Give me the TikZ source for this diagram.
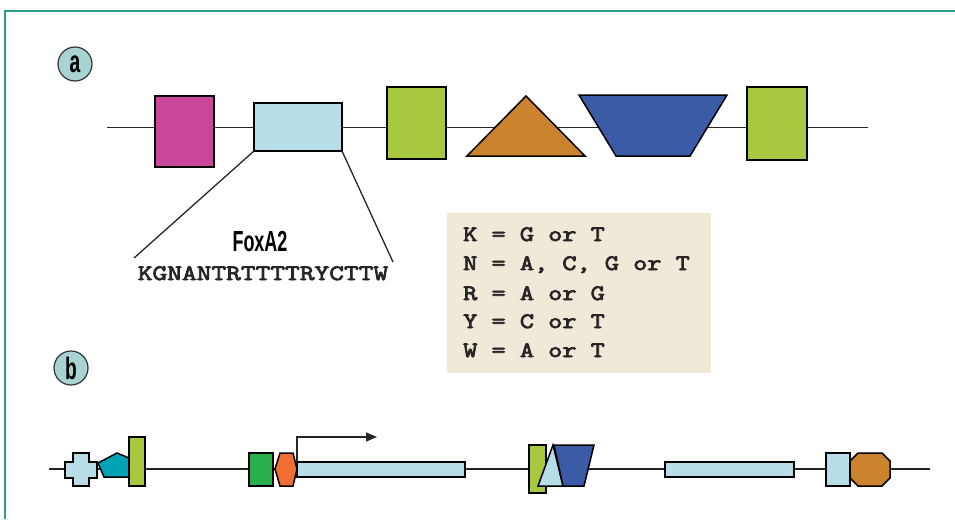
\documentclass[tikz,border=0pt]{standalone}
\usepackage{fontspec}
\newfontfamily\condfont[FakeStretch=0.62]{Liberation Sans}
\newfontfamily\monof[FakeBold=3.5, FakeStretch=1.25]{Latin Modern Mono}
\newfontfamily\monos[FakeBold=3.5, FakeStretch=1.3]{Latin Modern Mono}
\usetikzlibrary{arrows.meta}
\definecolor{cmag}{HTML}{C8479A}
\definecolor{clblue}{HTML}{B7DDE8}
\definecolor{clgreen}{HTML}{A8C83F}
\definecolor{corange}{HTML}{CC832F}
\definecolor{cblue}{HTML}{3B5BA7}
\definecolor{cteal}{HTML}{00A3B4}
\definecolor{cdgreen}{HTML}{27B04B}
\definecolor{corange2}{HTML}{F06E32}
\definecolor{cbeige}{HTML}{F1E9D8}
\definecolor{ccirc}{HTML}{A7D4D2}
\definecolor{cframe}{HTML}{2A9D8F}
\tikzset{
  bb/.style={draw=black!85, line width=1.3pt},
  shp/.style={draw=black, line width=1.5pt, line join=miter},
  boxn/.style={shp, rectangle, inner sep=0pt, outer sep=0pt},
  lab/.style={circle, draw=black!80, line width=1.2pt, fill=ccirc, minimum size=34pt, inner sep=0pt,
    font=\condfont\bfseries\fontsize{31}{31}\selectfont},
  mono/.style={font=\monof\fontsize{22}{22}\selectfont, inner sep=0pt, text=black!85},
}
\begin{document}
\begin{tikzpicture}[x=1pt,y=-1pt]
\useasboundingbox (0,0) rectangle (955,519);
\draw[cframe, line width=2pt] (5,519) -- (5,11) -- (955,11);

% ---------- panel a ----------
\node[lab] (la) at (75,64) {a};
\coordinate (a0) at (107,127.5);
\coordinate (a1) at (868,127.5);
\draw[bb] (a0) -- (a1);
\node[boxn, fill=cmag, minimum width=59pt, minimum height=71pt] (mag) at (184.5,131.5) {};
\node[boxn, fill=clblue, minimum width=88pt, minimum height=48pt] (fox box) at (298,127) {};
\node[boxn, fill=clgreen, minimum width=59pt, minimum height=72pt] (g1) at (416.5,123) {};
\draw[shp, fill=corange] (467,156) -- (526,96) -- (585,156) -- cycle;
\draw[shp, fill=cblue] (579,95) -- (727,95) -- (690,156) -- (616,156) -- cycle;
\node[boxn, fill=clgreen, minimum width=60pt, minimum height=73pt] (g2) at (777,123.5) {};

\coordinate (fl) at (134,258);
\coordinate (fr) at (393,262);
\draw[bb] (fox box.south west) -- (fl);
\draw[bb] (fox box.south east) -- (fr);
\node[anchor=base, inner sep=0pt, font=\condfont\bfseries\fontsize{29}{29}\selectfont] (fox) at (260,251) {FoxA2};
\node[mono, font=\monos\fontsize{22}{22}\selectfont, anchor=base] (seq) at (263,280) {KGNANTRTTTTRYCTTW};

\node[fill=cbeige, minimum width=264pt, minimum height=160pt, inner sep=0pt] (leg) at (579,293) {};
\node[mono, anchor=base west] (l1) at (463,241) {K = G or T};
\node[mono, anchor=base west] (l2) at (463,270) {N = A, C, G or T};
\node[mono, anchor=base west] (l3) at (463,300) {R = A or G};
\node[mono, anchor=base west] (l4) at (463,328) {Y = C or T};
\node[mono, anchor=base west] (l5) at (463,357) {W = A or T};

% ---------- panel b ----------
\node[lab] (lb) at (71,368) {b};
\coordinate (b0) at (49,469);
\coordinate (b1) at (930,469);
\draw[bb] (b0) -- (b1);
\draw[shp, fill=clblue] (73,453) -- (89,453) -- (89,462) -- (97,462) -- (97,478) -- (89,478) -- (89,486)
  -- (73,486) -- (73,478) -- (65,478) -- (65,462) -- (73,462) -- cycle;
\draw[shp, fill=cteal] (98,463) -- (117,453) -- (129,458) -- (129,477) -- (104,477) -- cycle;
\node[boxn, fill=clgreen, minimum width=16pt, minimum height=49pt] (sg) at (137,461.5) {};
\node[boxn, fill=cdgreen, minimum width=24pt, minimum height=33pt] (dg) at (261,469.5) {};
\draw[shp, fill=corange2] (275,469) -- (280,453) -- (293,453) -- (297,469) -- (293,486) -- (280,486) -- cycle;
\node[boxn, fill=clblue, minimum width=168pt, minimum height=15pt] (gene1) at (381,469.5) {};
\coordinate (tss) at (377,437);
\draw[bb, -{Triangle[length=11pt,width=9pt]}] (gene1.north west) |- (tss);

\node[boxn, fill=clgreen, minimum width=17pt, minimum height=48pt] (g3) at (537.5,469) {};
\draw[shp, fill=clblue] (538,486) -- (553,445) -- (563,486) -- cycle;
\draw[shp, fill=cblue] (554,445) -- (594,445) -- (584,486) -- (563,486) -- cycle;
\node[boxn, fill=clblue, minimum width=129pt, minimum height=15pt] (gene2) at (729.5,469.5) {};
\node[boxn, fill=clblue, minimum width=24pt, minimum height=33pt] (sq) at (838,469.5) {};
\draw[shp, fill=corange] (858,453) -- (882,453) -- (890,461) -- (890,478) -- (882,486) -- (858,486)
  -- (850,478) -- (850,461) -- cycle;
\end{tikzpicture}
\end{document}
